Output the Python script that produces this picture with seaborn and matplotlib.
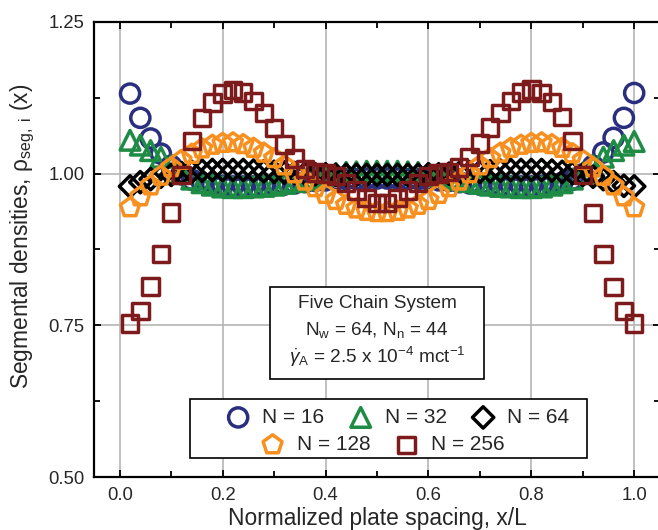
import matplotlib
matplotlib.use("Agg")
import matplotlib.pyplot as plt
import numpy as np
import pandas as pd
import seaborn as sns
from matplotlib.patches import Rectangle
from matplotlib.ticker import MultipleLocator, FormatStrFormatter

# ---------------- data ----------------
x_pos = [0.02, 0.04, 0.06, 0.08, 0.10, 0.12, 0.14, 0.16, 0.18, 0.20,
         0.22, 0.24, 0.26, 0.28, 0.30, 0.32, 0.34, 0.36, 0.38, 0.40,
         0.42, 0.44, 0.46, 0.48, 0.50, 0.52, 0.54, 0.56, 0.58, 0.60,
         0.62, 0.64, 0.66, 0.68, 0.70, 0.72, 0.74, 0.76, 0.78, 0.80,
         0.82, 0.84, 0.86, 0.88, 0.90, 0.92, 0.94, 0.96, 0.98, 1.00]

rho_N16 = [1.132, 1.092, 1.058, 1.033, 1.013, 0.999, 0.990, 0.985, 0.982, 0.980,
           0.979, 0.979, 0.979, 0.980, 0.981, 0.982, 0.984, 0.986, 0.988, 0.989,
           0.990, 0.991, 0.991, 0.992, 0.992, 0.992, 0.992, 0.991, 0.991, 0.990,
           0.989, 0.988, 0.986, 0.984, 0.982, 0.981, 0.980, 0.979, 0.979, 0.979,
           0.980, 0.982, 0.985, 0.990, 0.999, 1.013, 1.035, 1.059, 1.092, 1.133]

rho_N32 = [1.055, 1.047, 1.038, 1.027, 1.013, 1.001, 0.991, 0.985, 0.981, 0.978,
           0.977, 0.977, 0.978, 0.979, 0.981, 0.984, 0.987, 0.990, 0.994, 0.997,
           1.000, 1.002, 1.003, 1.004, 1.004, 1.004, 1.004, 1.003, 1.002, 1.000,
           0.997, 0.994, 0.990, 0.987, 0.984, 0.981, 0.979, 0.978, 0.977, 0.977,
           0.978, 0.981, 0.985, 0.991, 1.001, 1.013, 1.027, 1.038, 1.047, 1.053]

rho_N64 = [0.979, 0.986, 0.991, 0.995, 0.998, 1.001, 1.003, 1.005, 1.006, 1.006,
           1.006, 1.006, 1.005, 1.004, 1.003, 1.002, 1.001, 1.000, 0.999, 0.999,
           0.998, 0.998, 0.998, 0.998, 0.998, 0.998, 0.998, 0.998, 0.998, 0.999,
           0.999, 1.000, 1.001, 1.002, 1.003, 1.004, 1.005, 1.006, 1.006, 1.006,
           1.006, 1.005, 1.003, 1.001, 0.998, 0.995, 0.991, 0.986, 0.980, 0.979]

rho_N128 = [0.944, 0.962, 0.980, 0.996, 1.010, 1.022, 1.032, 1.041, 1.047, 1.050,
            1.051, 1.048, 1.042, 1.034, 1.025, 1.013, 1.000, 0.988, 0.977, 0.966,
            0.956, 0.948, 0.942, 0.938, 0.936, 0.936, 0.938, 0.942, 0.948, 0.956,
            0.966, 0.977, 0.988, 1.000, 1.013, 1.025, 1.034, 1.042, 1.047, 1.050,
            1.051, 1.048, 1.042, 1.033, 1.022, 1.010, 0.996, 0.980, 0.962, 0.944]

rho_N256 = [0.753, 0.774, 0.814, 0.868, 0.936, 0.998, 1.054, 1.092, 1.117, 1.132,
            1.138, 1.134, 1.120, 1.100, 1.075, 1.048, 1.025, 1.008, 1.002, 1.000,
            0.996, 0.985, 0.972, 0.960, 0.952, 0.952, 0.960, 0.972, 0.985, 0.996,
            1.000, 1.003, 1.010, 1.027, 1.050, 1.076, 1.100, 1.120, 1.134, 1.139,
            1.133, 1.118, 1.093, 1.054, 0.998, 0.935, 0.868, 0.813, 0.774, 0.753]

series_labels = ["N = 16", "N = 32", "N = 64", "N = 128", "N = 256"]
series_values = [rho_N16, rho_N32, rho_N64, rho_N128, rho_N256]
x_ticks = [0.0, 0.2, 0.4, 0.6, 0.8, 1.0]
y_ticks = [0.50, 0.75, 1.00, 1.25]

# ---------------- style ----------------
colors = ["#2a2e7e", "#1e8c44", "#000000", "#f7901e", "#7d1a1c"]
markers = ["o", "^", "D", "p", "s"]
sizes = [190, 200, 118, 205, 140]

sns.set_theme(style="ticks")
plt.rcParams["font.family"] = ["Liberation Sans", "DejaVu Sans"]
plt.rcParams["mathtext.fontset"] = "custom"
plt.rcParams["mathtext.rm"] = "Liberation Sans"
plt.rcParams["mathtext.it"] = "Liberation Sans:italic"
plt.rcParams["mathtext.bf"] = "Liberation Sans:bold"

df = pd.DataFrame({
    "x": np.tile(x_pos, len(series_labels)),
    "rho": np.concatenate(series_values),
    "series": np.repeat(series_labels, len(x_pos)),
})

fig = plt.figure(figsize=(6.58, 5.30), dpi=100)
ax = fig.add_axes([0.1429, 0.1, 0.860, 0.8585])

handles = []
for lab, col, mk, sz in zip(series_labels, colors, markers, sizes):
    sub = df[df["series"] == lab]
    sns.scatterplot(data=sub, x="x", y="rho", ax=ax, marker=mk, s=sz,
                    color=col, facecolor="none", edgecolor=col,
                    linewidth=2.5, label=lab, legend=False, zorder=3)
    handles.append(ax.collections[-1])

ax.set_xlim(-0.05, 1.05)
ax.set_ylim(0.5, 1.25)
ax.set_xticks(x_ticks)
ax.set_yticks(y_ticks)
ax.xaxis.set_minor_locator(MultipleLocator(0.1))
ax.yaxis.set_minor_locator(MultipleLocator(0.125))
ax.xaxis.set_major_formatter(FormatStrFormatter("%.1f"))
ax.yaxis.set_major_formatter(FormatStrFormatter("%.2f"))
ax.tick_params(which="both", direction="in", top=True, right=True,
               width=1.3, color="black", labelsize=13.3, pad=7)
ax.tick_params(which="major", length=5)
ax.tick_params(which="minor", length=4)
for sp in ax.spines.values():
    sp.set_linewidth(1.6)
    sp.set_color("black")
ax.grid(True, which="major", color="#b5b5b5", linewidth=1.2)
ax.set_axisbelow(True)

ax.set_xlabel("Normalized plate spacing, x/L", fontsize=16.4)
ax.set_ylabel(r"Segmental densities, ρ$_{\mathrm{seg,\ i}}$ (x)", fontsize=16.4)
ax.xaxis.set_label_coords(0.5, -0.066)
ax.yaxis.set_label_coords(-0.101, 0.53)

# info box
ax.add_patch(Rectangle((0.311, 0.215), 0.378, 0.203, transform=ax.transAxes,
                       facecolor="white", edgecolor="black", linewidth=1.2,
                       zorder=4))
ax.text(0.5, 0.371, "Five Chain System", transform=ax.transAxes,
        ha="center", va="baseline", fontsize=13.7, zorder=5)
ax.text(0.5, 0.312, r"N$_{\mathrm{w}}$ = 64, N$_{\mathrm{n}}$ = 44",
        transform=ax.transAxes, ha="center", va="baseline", fontsize=13.7,
        zorder=5)
ax.text(0.5, 0.251,
        r"$\dot{\gamma}_{\mathrm{A}}$ = 2.5 x 10$^{\mathrm{-4}}$ mct$^{\mathrm{-1}}$",
        transform=ax.transAxes, ha="center", va="baseline", fontsize=13.7,
        zorder=5)

# legend box
ax.add_patch(Rectangle((0.170, 0.042), 0.701, 0.129, transform=ax.transAxes,
                       facecolor="white", edgecolor="black", linewidth=1.2,
                       zorder=4))
leg_kw = dict(frameon=False, fontsize=15, handlelength=1.0,
              handletextpad=0.65, columnspacing=1.25, borderpad=0.0,
              borderaxespad=0.0, scatterpoints=1)
leg1 = ax.legend(handles[:3], series_labels[:3], ncol=3, loc="center",
                 bbox_to_anchor=(0.538, 0.131), **leg_kw)
leg1.set_zorder(6)
ax.add_artist(leg1)
leg2 = ax.legend(handles[3:], series_labels[3:], ncol=2, loc="center",
                 bbox_to_anchor=(0.511, 0.071), **leg_kw)
leg2.set_zorder(6)

fig.savefig("out.png", dpi=100)
